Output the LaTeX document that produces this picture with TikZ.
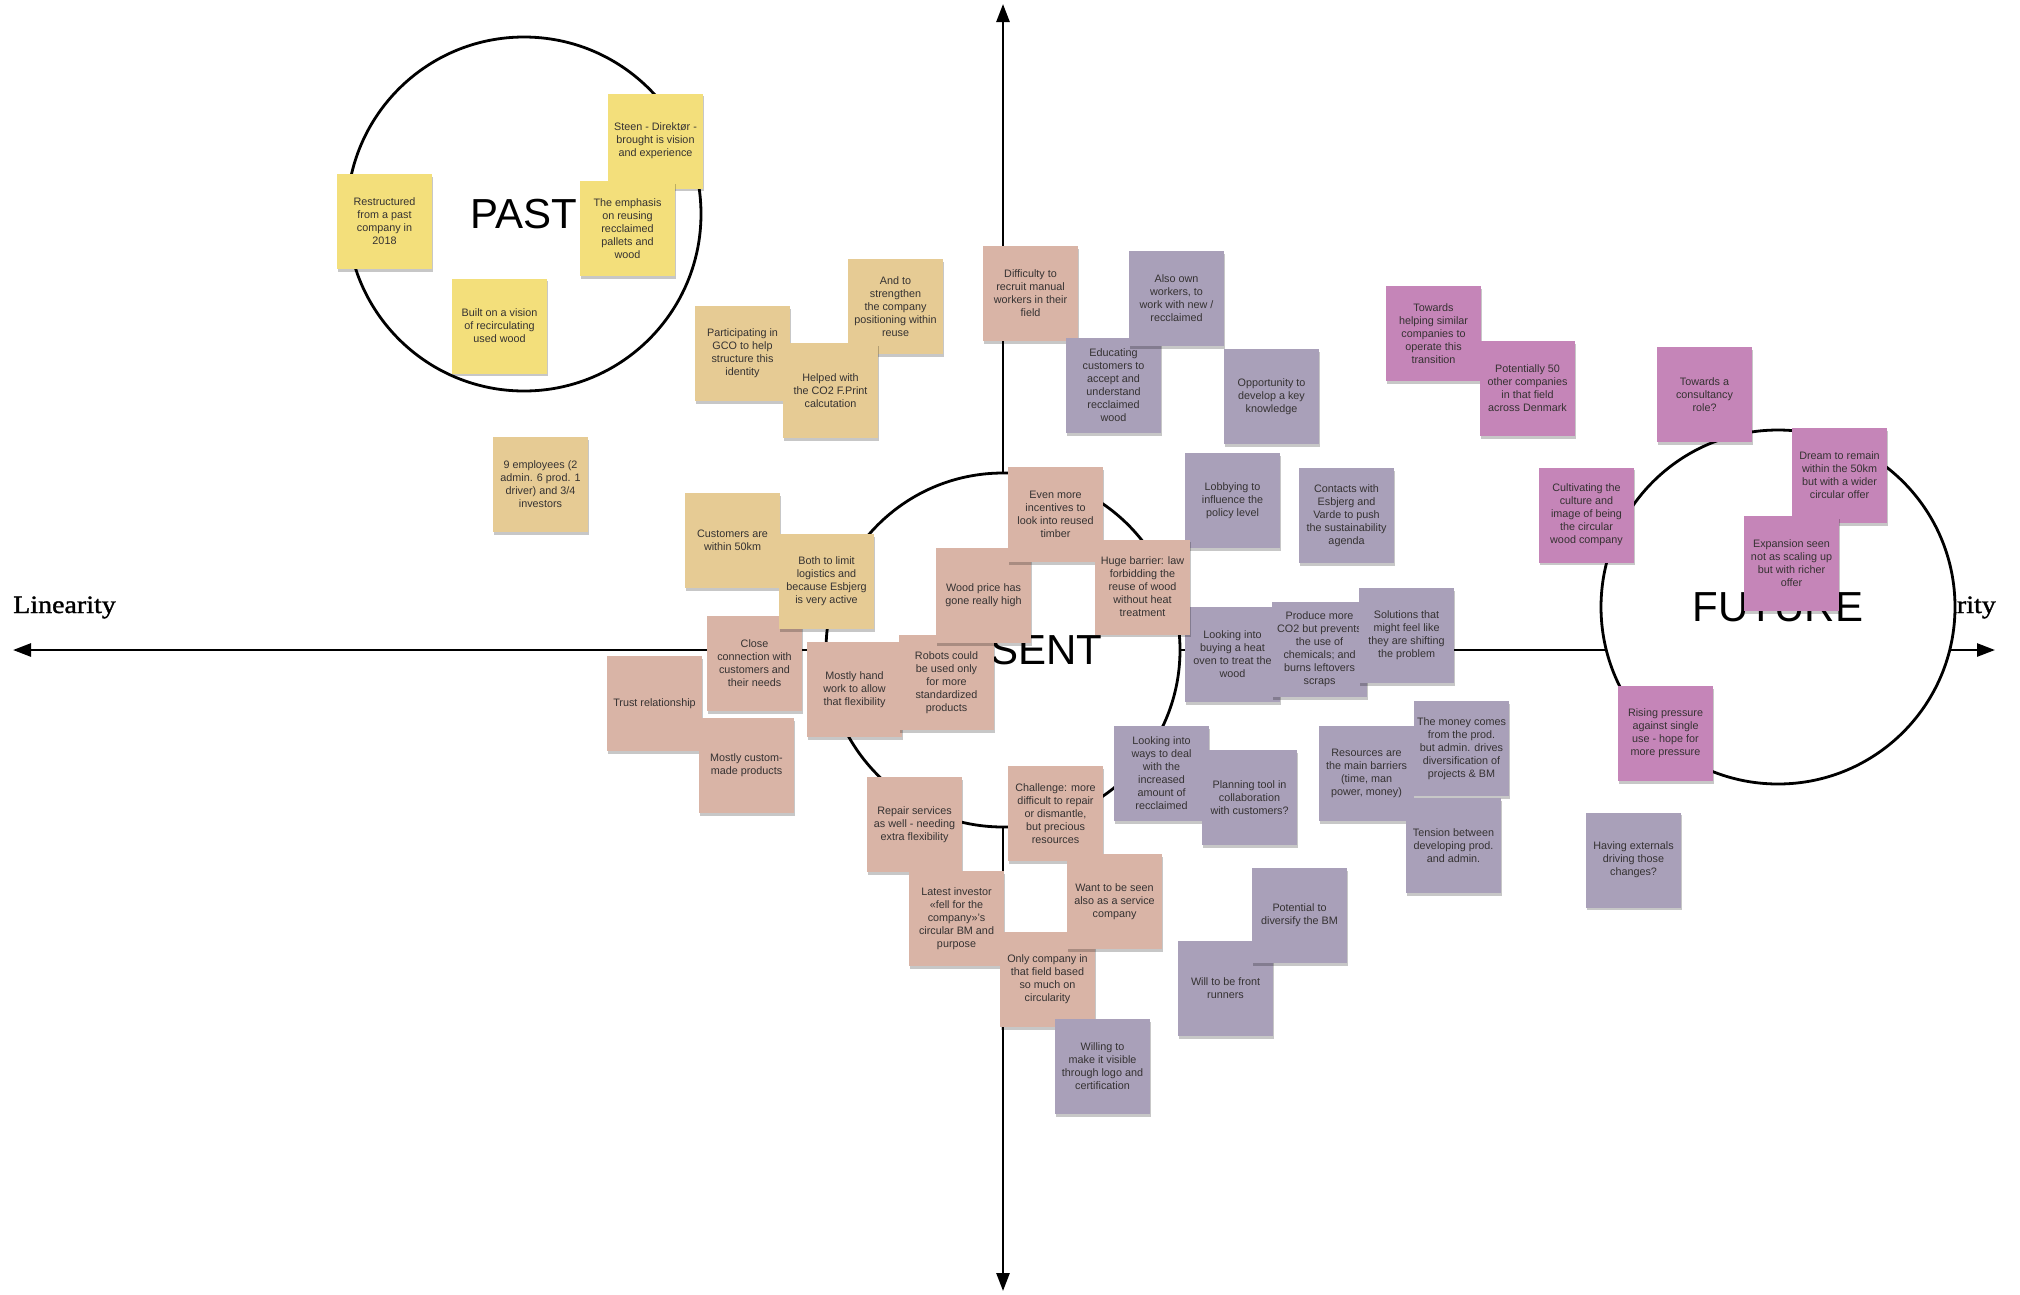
\documentclass[tikz,border=0pt]{standalone}
\usepackage{fontspec}
\usepackage{graphicx}
\setmainfont{Liberation Sans}
\newfontfamily\axisfont[FakeBold=1.2]{Liberation Serif}
\usetikzlibrary{arrows.meta,shadows}

\definecolor{pastnote}{HTML}{F3DF7B}
\definecolor{tannote}{HTML}{E6CB94}
\definecolor{nownote}{HTML}{D9B4A6}
\definecolor{lavnote}{HTML}{A9A0B9}
\definecolor{futnote}{HTML}{C585B8}
\definecolor{notetext}{HTML}{353232}

\tikzset{
  axis/.style={line width=2.6pt, {Triangle[length=18pt,width=13pt]}-{Triangle[length=18pt,width=13pt]}},
  axislabel/.style={inner sep=0pt, font=\axisfont\fontsize{25}{30}\selectfont},
  era/.style={circle, draw=black, fill=white, line width=2.8pt, minimum size=354pt,
              inner sep=0pt, outer sep=0pt, font=\fontsize{42}{48}\selectfont},
  note/.style={minimum width=95pt, minimum height=95pt, inner sep=0pt, align=center,
               text=notetext, font=\fontsize{10.8}{13}\selectfont,
               drop shadow={shadow xshift=1.2pt, shadow yshift=-2.5pt, opacity=0.22, fill=black}},
  pastn/.style={note, fill=pastnote},
  tann/.style={note, fill=tannote},
  nown/.style={note, fill=nownote},
  lavn/.style={note, fill=lavnote},
  futn/.style={note, fill=futnote},
}

\begin{document}
\begin{tikzpicture}[x=1pt,y=-1pt]
\useasboundingbox (0,0) rectangle (2020,1294);
\fill[white] (0,0) rectangle (2020,1294);

% axes
\coordinate (W) at (13,650);
\coordinate (E) at (1995,650);
\coordinate (N) at (1003,4);
\coordinate (S) at (1003,1291);
\draw[axis] (W) -- (E);
\draw[axis] (S) -- (N);

% axis labels
\node[axislabel, anchor=base west] (lin) at (13,613) {\scalebox{1.12}[1]{Linearity}};
\node[axislabel, anchor=base east] (circ) at (1996,613) {\scalebox{1.12}[1]{Circularity}};

% time circles
\node[era] (past) at (524,214) {PAST};
\node[era] (present) at (1003,650) {PRESENT};
\node[era] (future) at (1778,607) {FUTURE};

% past
\node[pastn] (stn) at (655.5,141) {Steen - Direktør -\\brought is vision\\and experience};
\node[pastn] (emp) at (627.5,228.5) {The emphasis\\on reusing\\recclaimed\\pallets and\\wood};
\node[pastn] (rst) at (384.5,221.5) {Restructured\\from a past\\company in\\2018};
\node[pastn] (blt) at (499.5,326) {Built on a vision\\of recirculating\\used wood};

% identity and context
\node[tann] (prt) at (742.5,353.5) {Participating in\\GCO to help\\structure this\\identity};
\node[tann] (str) at (895.5,306.5) {And to\\strengthen\\the company\\positioning within\\reuse};
\node[tann] (hlp) at (830.5,390.5) {Helped with\\the CO2 F.Print\\calcutation};
\node[tann] (ninep) at (540.5,484.5) {9 employees (2\\admin. 6 prod. 1\\driver) and 3/4\\investors};
\node[tann] (cst) at (732.5,540.5) {Customers are\\within 50km};
\node[nown] (cls) at (754.5,663.5) {Close\\connection with\\customers and\\their needs};
\node[tann] (bth) at (826.5,581.5) {Both to limit\\logistics and\\because Esbjerg\\is very active};

% present
\node[nown] (trs) at (654.5,703.5) {Trust relationship};
\node[nown] (cmd) at (746.5,765.5) {Mostly custom-\\made products};
\node[nown] (hnd) at (854.5,689.5) {Mostly hand\\work to allow\\that flexibility};
\node[nown] (rbt) at (946.5,682.5) {Robots could\\be used only\\for more\\standardized\\products};
\node[nown] (wpr) at (983.5,595.5) {Wood price has\\gone really high};
\node[nown] (inc) at (1055.5,514.5) {Even more\\incentives to\\look into reused\\timber};
\node[lavn] (lob) at (1232.5,500.5) {Lobbying to\\influence the\\policy level};
\node[lavn] (ovn) at (1232.5,654.5) {Looking into\\buying a heat\\oven to treat the\\wood};
\node[nown] (hgb) at (1142.5,587) {Huge barrier: law\\forbidding the\\reuse of wood\\without heat\\treatment};
\node[lavn] (co2) at (1319.5,649.5) {Produce more\\CO2 but prevents\\the use of\\chemicals; and\\burns leftovers\\scraps};
\node[lavn] (sol) at (1406.5,635.5) {Solutions that\\might feel like\\they are shifting\\the problem};

\node[nown] (dif) at (1030.5,293.5) {Difficulty to\\recruit manual\\workers in their\\field};
\node[lavn] (edu) at (1113.5,385.5) {Educating\\customers to\\accept and\\understand\\recclaimed\\wood};
\node[lavn] (own) at (1176.5,298.5) {Also own\\workers, to\\work with new /\\recclaimed};
\node[lavn] (opp) at (1271.5,396.5) {Opportunity to\\develop a key\\knowledge};
\node[lavn] (cnt) at (1346.5,515.5) {Contacts with\\Esbjerg and\\Varde to push\\the sustainability\\agenda};

\node[lavn] (lkw) at (1161.5,773.5) {Looking into\\ways to deal\\with the\\increased\\amount of\\recclaimed};
\node[lavn] (pln) at (1249.5,797.5) {Planning tool in\\collaboration\\with customers?};
\node[lavn] (res) at (1366.5,773.5) {Resources are\\the main barriers\\(time, man\\power, money)};
\node[lavn] (mny) at (1461.5,748.5) {The money comes\\from the prod.\\but admin. drives\\diversification of\\projects \& BM};
\node[lavn] (tns) at (1453.5,845.5) {Tension between\\developing prod.\\and admin.};
\node[lavn] (wil) at (1225.5,988.5) {Will to be front\\runners};
\node[lavn] (pot) at (1299.5,915.5) {Potential to\\diversify the BM};

\node[nown] (rep) at (914.5,824.5) {Repair services\\as well - needing\\extra flexibility};
\node[nown] (lat) at (956.5,918.5) {Latest investor\\«fell for the\\company»'s\\circular BM and\\purpose};
\node[nown] (onl) at (1047.5,979.5) {Only company in\\that field based\\so much on\\circularity};
\node[nown] (chl) at (1055.5,813.5) {Challenge: more\\difficult to repair\\or dismantle,\\but precious\\resources};
\node[nown] (wnt) at (1114.5,901.5) {Want to be seen\\also as a service\\company};
\node[lavn] (vis) at (1102.5,1066.5) {Willing to\\make it visible\\through logo and\\certification};

% future
\node[futn] (hsc) at (1433.5,333.5) {Towards\\helping similar\\companies to\\operate this\\transition};
\node[futn] (p50) at (1527.5,388.5) {Potentially 50\\other companies\\in that field\\across Denmark};
\node[futn] (cns) at (1704.5,394.5) {Towards a\\consultancy\\role?};
\node[futn] (cul) at (1586.5,515) {Cultivating the\\culture and\\image of being\\the circular\\wood company};
\node[futn] (drm) at (1839.5,475.5) {Dream to remain\\within the 50km\\but with a wider\\circular offer};
\node[futn] (exs) at (1791.5,563.5) {Expansion seen\\not as scaling up\\but with richer\\offer};
\node[futn] (rsg) at (1665.5,733.5) {Rising pressure\\against single\\use - hope for\\more pressure};
\node[lavn] (ext) at (1633.5,860) {Having externals\\driving those\\changes?};
\end{tikzpicture}
\end{document}
